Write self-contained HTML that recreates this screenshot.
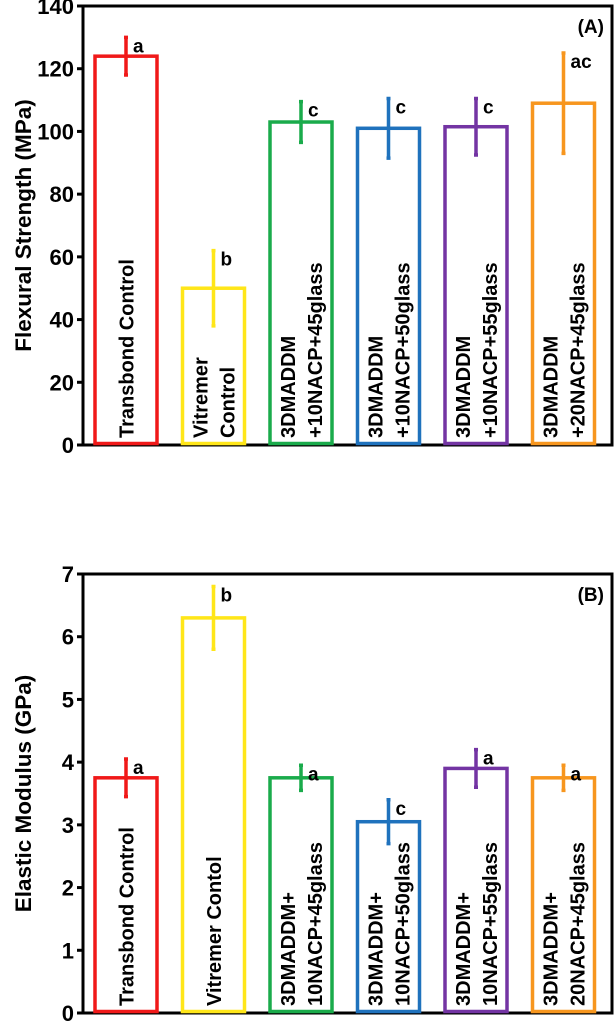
<!DOCTYPE html>
<html><head><meta charset="utf-8"><style>
body{margin:0;background:#fff;width:616px;height:1026px;overflow:hidden}
svg{display:block;font-family:"Liberation Sans",Arial,sans-serif;font-weight:bold}
</style></head><body>
<svg id="c" width="616" height="1026"></svg>
<script>
const catsA=[["Transbond Control"],["Vitremer","Control"],["3DMADDM","+10NACP+45glass"],["3DMADDM","+10NACP+50glass"],["3DMADDM","+10NACP+55glass"],["3DMADDM","+20NACP+45glass"]];
const valsA=[124,50,103,101,101.5,109];
const errA=[6,12,6.5,9.5,9,16];
const sigA=["a","b","c","c","c","ac"];
const ticksA=[0,20,40,60,80,100,120,140];
const catsB=[["Transbond Control"],["Vitremer Contol"],["3DMADDM+","10NACP+45glass"],["3DMADDM+","10NACP+50glass"],["3DMADDM+","10NACP+55glass"],["3DMADDM+","20NACP+45glass"]];
const valsB=[3.75,6.3,3.75,3.05,3.9,3.75];
const errB=[0.3,0.5,0.2,0.35,0.3,0.2];
const sigB=["a","b","a","c","a","a"];
const ticksB=[0,1,2,3,4,5,6,7];
const colors=["#f01919","#ffe619","#1aab4b","#1f72bd","#7334a3","#f7961e"];
const NS="http://www.w3.org/2000/svg";
const svg=document.getElementById('c');
function mk(t,a,p){const e=document.createElementNS(NS,t);for(const k in a)e.setAttribute(k,a[k]);(p||svg).appendChild(e);return e;}
function chart(cfg){
  const g=mk('g',{});
  
  
  const x0=83,x1=612,yTop=cfg.yTop,yBot=cfg.yBot,max=cfg.ticks[cfg.ticks.length-1];
  const y=v=>yBot-(v/max)*(yBot-yTop);
  const step=87.5,bw=62;
  const bx=i=>95+i*step;
  const fr=mk('rect',{x:x0,y:yTop,width:x1-x0,height:yBot-yTop,fill:'none',stroke:'#000','stroke-width':3},g);
  
  cfg.ticks.forEach(t=>{
    const l=mk('line',{x1:x0-6,x2:x0,y1:y(t),y2:y(t),stroke:'#000','stroke-width':3},g);
    
    const tx=mk('text',{x:x0-9,y:y(t)+8,'text-anchor':'end','font-size':22},g);
    tx.textContent=t;
    
  });
  const yt=mk('text',{transform:`translate(31,${(yTop+yBot)/2}) rotate(-90)`,'text-anchor':'middle','font-size':22.5},g);
  yt.textContent=cfg.ytitle;
  
  const pl=mk('text',{x:604,y:yTop+27,'text-anchor':'end','font-size':19},g);
  pl.textContent=cfg.panel;
  
  cfg.vals.forEach((v,i)=>{
    const c=colors[i],xl=bx(i),cx=xl+bw/2;
    const r=mk('rect',{x:xl,y:y(v),width:bw,height:yBot-y(v)-1.5,fill:'none',stroke:c,'stroke-width':3.5},g);
    
    const e=cfg.err[i];
    const el=mk('path',{d:`M${cx},${y(v+e)}V${y(v-e)}M${cx-2},${y(v+e)}h4M${cx-2},${y(v-e)}h4`,stroke:c,'stroke-width':3.5,fill:'none'},g);
    
    const s=mk('text',{x:cx+7,y:y(v+e)+15,'font-size':19},g);
    s.textContent=cfg.sig[i];
    
    const lines=cfg.cats[i];
    lines.forEach((ln,j)=>{
      const lx=cx+(j-(lines.length-1)/2)*27+7.5;
      const t=mk('text',{transform:`translate(${lx},${yBot-7}) rotate(-90)`,'font-size':20},g);
      t.textContent=ln;
      
    });
  });
}
chart({name:'flexural-strength-chart',cats:catsA,vals:valsA,err:errA,sig:sigA,ticks:ticksA,yTop:6,yBot:445,ytitle:'Flexural Strength (MPa)',panel:'(A)'});
chart({name:'elastic-modulus-chart',cats:catsB,vals:valsB,err:errB,sig:sigB,ticks:ticksB,yTop:574,yBot:1013,ytitle:'Elastic Modulus (GPa)',panel:'(B)'});
</script>
</body></html>
